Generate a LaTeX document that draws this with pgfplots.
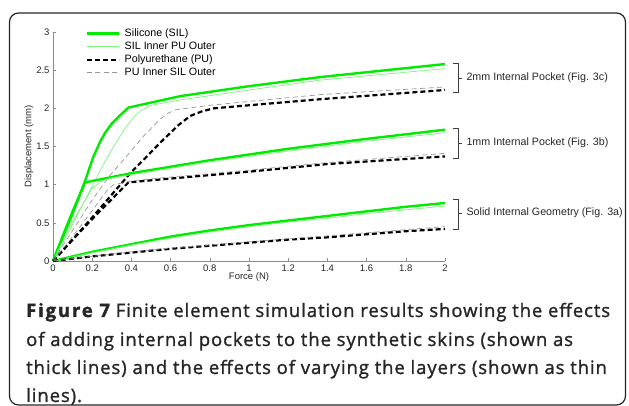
\documentclass[border=0pt]{standalone}
\usepackage{pgfplots}
\pgfplotsset{compat=1.18}
\usepackage{fontspec}
\setmainfont{Liberation Sans}
\newfontfamily\capfont[FakeBold=1.3, LetterSpace=5]{Open Sans}
\newfontfamily\capbold[FakeBold=1.5, LetterSpace=10]{Open Sans}
\definecolor{thickgreen}{RGB}{0,235,0}
\definecolor{thingreen}{RGB}{125,245,125}
\definecolor{thingray}{RGB}{150,150,150}
\pgfplotsset{
  silthick/.style={thickgreen, line width=2.4pt},
  silthin/.style={thingreen, line width=0.7pt},
  puthick/.style={black, line width=2.2pt, dash pattern=on 5pt off 3pt},
  puthin/.style={thingray, line width=0.7pt, dash pattern=on 5pt off 3.5pt},
}
\begin{document}
\begin{tikzpicture}[x=1pt,y=1pt]
\useasboundingbox (0,0) rectangle (629,406);
\draw[line width=1.2pt, black!85, rounded corners=9pt] (9.5,1) rectangle (625.5,393);
\begin{axis}[
  at={(53pt,145pt)}, anchor=south west, scale only axis,
  width=392pt, height=229pt,
  xmin=0, xmax=2, ymin=0, ymax=3,
  axis x line*=bottom, axis y line*=left,
  axis line style={black!45, line width=0.5pt},
  xtick={0,0.2,0.4,0.6,0.8,1,1.2,1.4,1.6,1.8,2},
  ytick={0,0.5,1,1.5,2,2.5,3},
  tick style={black!45, line width=0.5pt}, major tick length=3pt, tick align=inside,
  tick label style={font=\fontsize{9.5}{11}\selectfont, text=black!85},
  /pgf/number format/assume math mode=true,
  xlabel={Force (N)}, ylabel={Displacement (mm)},
  label style={font=\fontsize{9.5}{11}\selectfont, text=black!85},
  xlabel style={at={(axis description cs:0.5,-0.07)}, anchor=center},
  ylabel style={at={(axis description cs:-0.0612,0.5)}, anchor=center},
  clip=false,
  legend cell align=left,
  legend style={at={(rel axis cs:0.082,1.022)}, anchor=north west, draw=none, fill=none,
    font=\fontsize{10.7}{12}\selectfont, inner sep=0pt, row sep=0pt,
    nodes={inner sep=1pt, text height=8pt, text depth=3pt},
    /tikz/every odd column/.append style={column sep=4pt}},
  legend image code/.code={\draw[#1] (0pt,0pt) -- (32pt,0pt);},
]
% 2mm internal pocket
\addplot[silthick] coordinates {(0,0) (0.1,0.62) (0.164,1.05) (0.205,1.36) (0.24,1.56) (0.266,1.68) (0.3,1.8) (0.343,1.91) (0.385,2.01) (0.65,2.16) (1,2.29) (1.366,2.41) (2,2.58)};
\addplot[silthin] coordinates {(0,0) (0.1,0.48) (0.2,0.98) (0.256,1.26) (0.307,1.49) (0.368,1.74) (0.42,1.91) (0.455,1.98) (0.5,2.04) (0.65,2.11) (1,2.24) (1.366,2.37) (2,2.52)};
\addplot[puthick] coordinates {(0,0) (0.1,0.28) (0.2,0.57) (0.3,0.87) (0.394,1.15) (0.46,1.32) (0.547,1.55) (0.64,1.78) (0.7,1.9) (0.76,1.96) (0.82,2.0) (1,2.04) (1.366,2.12) (2,2.24)};
\addplot[puthin] coordinates {(0,0) (0.1,0.4) (0.2,0.8) (0.29,1.12) (0.378,1.38) (0.46,1.63) (0.547,1.86) (0.59,1.94) (0.624,1.98) (0.8,2.04) (1,2.09) (1.366,2.18) (2,2.28)};
\legend{Silicone (SIL), SIL Inner PU Outer, Polyurethane (PU), PU Inner SIL Outer}
% 1mm internal pocket
\addplot[silthick, forget plot] coordinates {(0,0) (0.05,0.33) (0.1,0.65) (0.164,1.03) (0.4,1.15) (0.8,1.32) (1.2,1.47) (1.6,1.60) (2,1.72)};
\addplot[silthin, forget plot] coordinates {(0,0) (0.1,0.52) (0.2,0.95) (0.25,1.05) (0.3,1.09) (0.4,1.13) (0.8,1.30) (1.2,1.44) (1.6,1.57) (2,1.68)};
\addplot[puthick, forget plot] coordinates {(0,0) (0.1,0.28) (0.2,0.55) (0.3,0.81) (0.385,1.03) (0.6,1.08) (1,1.17) (1.4,1.27) (2,1.37)};
\addplot[puthin, forget plot] coordinates {(0,0) (0.1,0.32) (0.2,0.66) (0.28,0.94) (0.31,1.0) (0.35,1.02) (0.4,1.05) (0.6,1.10) (1,1.19) (1.4,1.29) (2,1.41)};
% solid internal geometry
\addplot[silthick, forget plot] coordinates {(0,0) (0.2,0.12) (0.4,0.22) (0.6,0.32) (0.8,0.40) (1,0.47) (1.2,0.53) (1.4,0.59) (1.6,0.65) (1.8,0.71) (2,0.76)};
\addplot[silthin, forget plot] coordinates {(0,0) (0.2,0.11) (0.4,0.21) (0.6,0.30) (0.8,0.38) (1,0.45) (1.2,0.51) (1.4,0.56) (1.6,0.62) (1.8,0.67) (2,0.72)};
\addplot[puthick, forget plot] coordinates {(0,0) (0.2,0.06) (0.4,0.11) (0.6,0.16) (0.8,0.20) (1,0.24) (1.2,0.28) (1.4,0.31) (1.6,0.35) (1.8,0.39) (2,0.42)};
\addplot[puthin, forget plot] coordinates {(0,0) (0.2,0.06) (0.4,0.12) (0.6,0.17) (0.8,0.21) (1,0.25) (1.2,0.29) (1.4,0.33) (1.6,0.37) (1.8,0.41) (2,0.45)};
\end{axis}
% brackets
\begin{scope}[black!75, line width=0.6pt]
\draw (453,343) -- (458,343) -- (458,314) -- (453,314); \draw (458,328) -- (462,328);
\draw (453,278) -- (458,278) -- (458,248) -- (453,248); \draw (458,263) -- (462,263);
\draw (453,207) -- (458,207) -- (458,177) -- (453,177); \draw (458,193) -- (462,193);
\end{scope}
\begin{scope}[every node/.style={anchor=west, font=\fontsize{10.7}{12}\selectfont, text=black!85}]
\node at (463,328) {2mm Internal Pocket (Fig. 3c)};
\node at (463,263) {1mm Internal Pocket (Fig. 3b)};
\node at (463,193) {Solid Internal Geometry (Fig. 3a)};
\end{scope}
% caption
\begin{scope}[every node/.style={anchor=base west, inner sep=0pt, font=\capfont\fontsize{18.5}{20}\selectfont, text=black!85}]
\node at (26,89) {{\capbold\bfseries Figure 7} Finite element simulation results showing the effects};
\node at (26,60) {of adding internal pockets to the synthetic skins (shown as};
\node at (26,32) {thick lines) and the effects of varying the layers (shown as thin};
\node at (26,4) {lines).};
\end{scope}
\end{tikzpicture}
\end{document}
